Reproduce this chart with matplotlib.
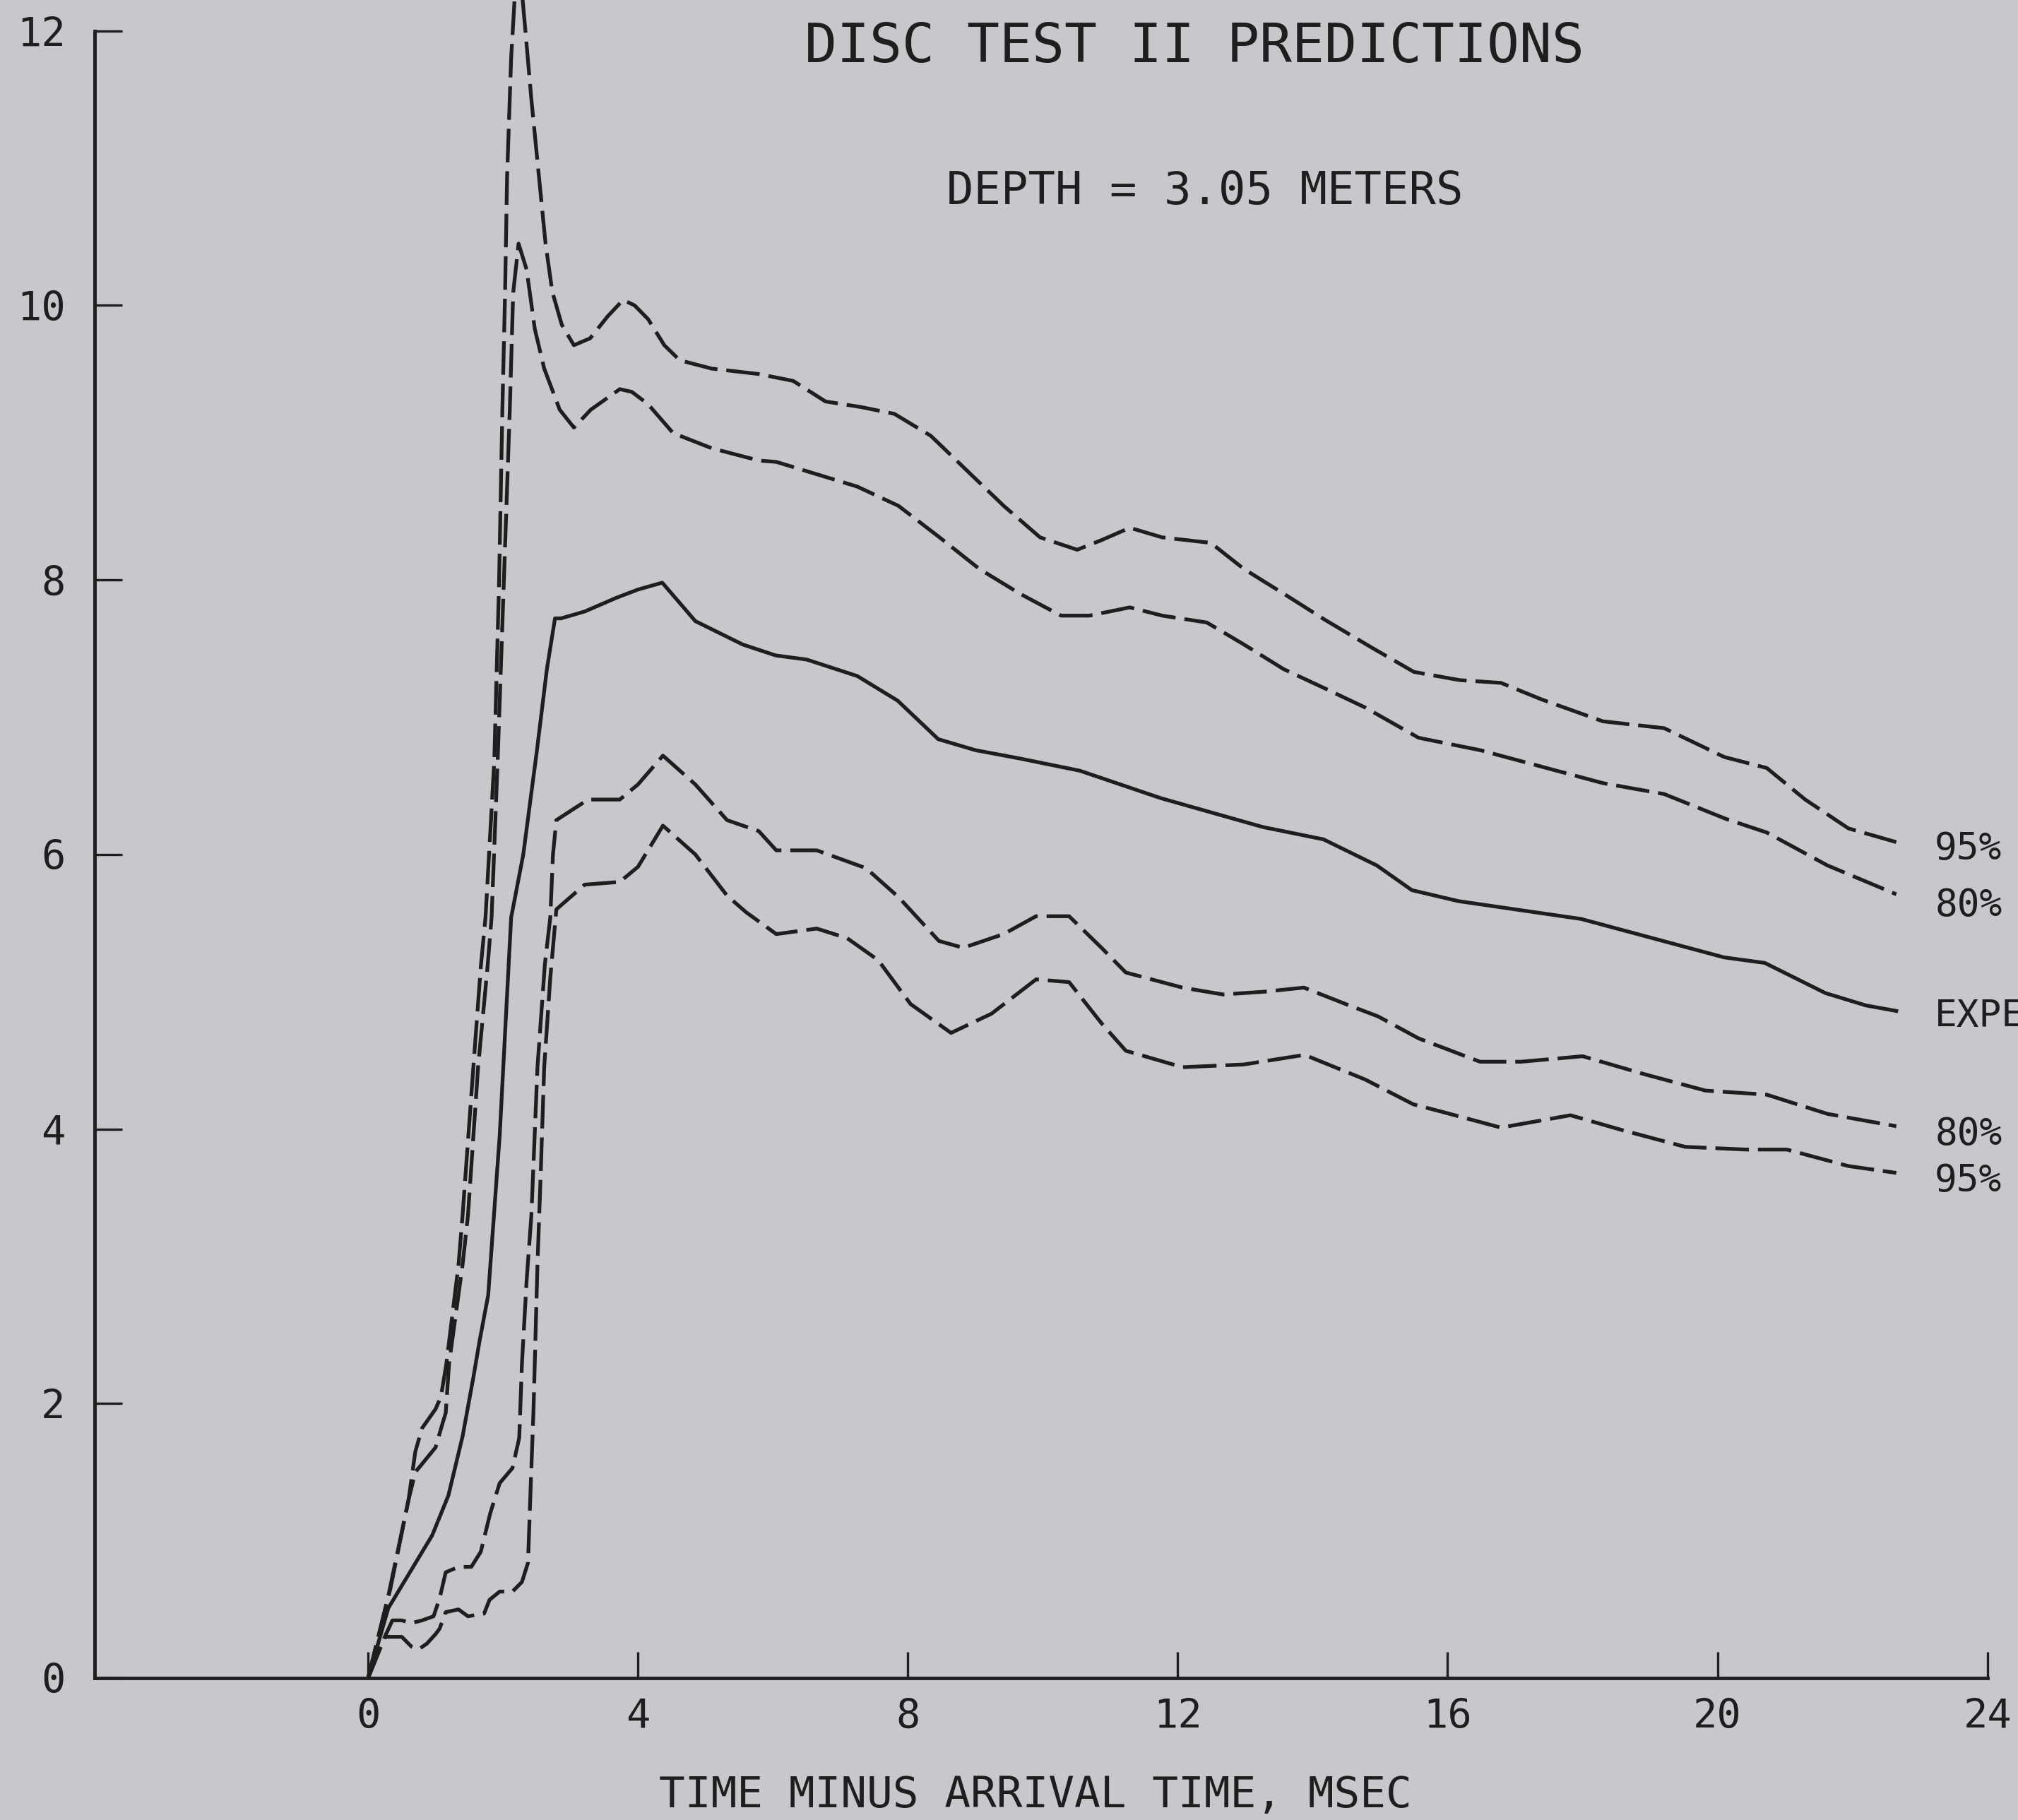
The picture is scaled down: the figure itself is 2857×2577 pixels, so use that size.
import matplotlib
matplotlib.use("Agg")
import matplotlib.pyplot as plt

# ---- data (time in msec, value) ----
expected_pts = [(0, 0), (0.3, 0.51), (0.95, 1.04), (1.19, 1.33), (1.40, 1.76), (1.56, 2.19),
                (1.65, 2.45), (1.78, 2.79), (1.95, 3.95), (2.12, 5.54), (2.3, 6.0), (2.5, 6.75),
                (2.65, 7.35), (2.77, 7.72), (2.86, 7.72), (3.21, 7.77), (3.68, 7.87), (4.0, 7.93),
                (4.36, 7.98), (4.85, 7.7), (5.55, 7.53), (6.04, 7.45), (6.5, 7.42), (7.25, 7.30),
                (7.85, 7.12), (8.45, 6.84), (9.0, 6.76), (9.65, 6.70), (10.55, 6.61), (11.75, 6.41),
                (13.26, 6.2), (14.16, 6.11), (14.95, 5.92), (15.47, 5.74), (16.16, 5.66), (17.0, 5.6),
                (17.98, 5.53), (19.19, 5.37), (20.1, 5.25), (20.7, 5.21), (21.6, 4.99), (22.2, 4.90),
                (22.65, 4.86)]

upper95_pts = [(0, 0), (0.33, 0.65), (0.6, 1.3), (0.7, 1.65), (0.8, 1.82), (1.0, 1.96), (1.08, 2.05),
               (1.16, 2.29), (1.34, 3.01), (1.40, 3.37), (1.56, 4.45), (1.67, 5.18), (1.74, 5.54),
               (1.87, 6.68), (1.94, 7.96), (1.99, 9.24), (2.03, 10.09), (2.06, 10.94), (2.12, 11.8),
               (2.17, 12.22), (2.24, 12.5), (2.33, 12.01), (2.42, 11.5), (2.52, 11.0), (2.63, 10.45),
               (2.73, 10.1), (2.87, 9.86), (3.05, 9.71), (3.29, 9.76), (3.55, 9.92), (3.78, 10.04),
               (3.95, 10.0), (4.15, 9.9), (4.39, 9.71), (4.62, 9.6), (5.09, 9.54), (5.79, 9.5),
               (6.3, 9.45), (6.78, 9.30), (7.3, 9.26), (7.8, 9.21), (8.34, 9.05), (8.89, 8.79),
               (9.42, 8.54), (9.96, 8.31), (10.51, 8.22), (10.87, 8.29), (11.29, 8.38), (11.77, 8.31),
               (12.49, 8.27), (12.98, 8.08), (13.57, 7.9), (14.18, 7.71), (14.9, 7.5), (15.5, 7.33),
               (16.18, 7.27), (16.79, 7.25), (17.39, 7.13), (18.3, 6.97), (19.21, 6.92), (20.1, 6.71),
               (20.73, 6.63), (21.3, 6.4), (21.94, 6.19), (22.65, 6.09)]

upper80_pts = [(0, 0), (0.3, 0.6), (0.6, 1.3), (0.7, 1.5), (1.0, 1.68), (1.1, 1.85), (1.15, 1.93),
               (1.2, 2.29), (1.40, 3.01), (1.48, 3.37), (1.63, 4.45), (1.77, 5.18), (1.83, 5.54),
               (1.92, 6.68), (2.01, 7.96), (2.10, 9.24), (2.15, 10.09), (2.23, 10.45), (2.35, 10.26),
               (2.47, 9.83), (2.61, 9.54), (2.84, 9.24), (3.05, 9.11), (3.3, 9.24), (3.73, 9.39),
               (3.91, 9.37), (4.15, 9.28), (4.52, 9.07), (5.09, 8.96), (5.79, 8.87), (6.05, 8.86),
               (6.65, 8.77), (7.25, 8.68), (7.86, 8.54), (8.47, 8.31), (9.06, 8.08), (9.66, 7.9),
               (10.27, 7.74), (10.69, 7.74), (11.29, 7.8), (11.77, 7.74), (12.43, 7.69), (12.98, 7.53),
               (13.57, 7.35), (14.18, 7.21), (14.78, 7.07), (15.57, 6.85), (16.48, 6.76), (17.39, 6.64),
               (18.3, 6.52), (19.21, 6.44), (20.12, 6.26), (20.73, 6.16), (21.63, 5.92), (22.65, 5.71)]

lower80_pts = [(0, 0), (0.2, 0.25), (0.36, 0.42), (0.5, 0.42), (0.64, 0.4), (0.8, 0.42), (0.97, 0.45),
               (1.06, 0.58), (1.15, 0.77), (1.34, 0.81), (1.53, 0.81), (1.67, 0.92), (1.81, 1.2),
               (1.95, 1.42), (2.14, 1.53), (2.24, 1.75), (2.28, 2.29), (2.35, 2.9), (2.42, 3.37),
               (2.51, 4.45), (2.62, 5.2), (2.70, 5.54), (2.74, 6.0), (2.79, 6.25), (3.26, 6.4),
               (3.73, 6.4), (4.0, 6.51), (4.37, 6.72), (4.85, 6.51), (5.32, 6.25), (5.79, 6.17),
               (6.05, 6.03), (6.65, 6.03), (7.38, 5.9), (7.86, 5.69), (8.46, 5.37), (8.82, 5.32),
               (9.42, 5.42), (9.9, 5.55), (10.39, 5.55), (10.87, 5.32), (11.23, 5.14), (12.07, 5.03),
               (12.67, 4.98), (13.28, 5.0), (13.87, 5.03), (14.49, 4.91), (14.97, 4.82), (15.57, 4.66),
               (16.48, 4.49), (17.09, 4.49), (18.0, 4.53), (18.91, 4.4), (19.82, 4.28), (20.73, 4.25),
               (21.63, 4.11), (22.65, 4.02)]

lower95_pts = [(0, 0), (0.25, 0.3), (0.5, 0.30), (0.64, 0.23), (0.75, 0.21), (0.87, 0.25), (1.0, 0.32),
               (1.06, 0.36), (1.15, 0.48), (1.34, 0.5), (1.48, 0.45), (1.6, 0.46), (1.72, 0.47),
               (1.8, 0.57), (1.95, 0.63), (2.14, 0.63), (2.28, 0.70), (2.37, 0.84), (2.41, 1.4),
               (2.45, 1.93), (2.51, 3.01), (2.56, 3.7), (2.61, 4.45), (2.7, 5.1), (2.79, 5.6),
               (3.21, 5.78), (3.73, 5.8), (4.0, 5.91), (4.37, 6.21), (4.85, 6.0), (5.32, 5.7),
               (5.6, 5.58), (6.05, 5.42), (6.65, 5.46), (7.1, 5.39), (7.56, 5.23), (8.04, 4.91),
               (8.64, 4.7), (9.24, 4.84), (9.9, 5.09), (10.39, 5.07), (10.87, 4.77), (11.23, 4.57),
               (12.07, 4.45), (12.98, 4.47), (13.88, 4.54), (14.78, 4.36), (15.49, 4.18), (15.88, 4.13),
               (16.79, 4.01), (17.82, 4.1), (18.6, 3.99), (19.52, 3.87), (20.43, 3.85), (21.03, 3.85),
               (21.94, 3.73), (22.65, 3.68)]

end_labels = ["95%", "80%", "EXPECTED", "80%", "95%"]
end_label_y = [6.04, 5.63, 4.82, 3.96, 3.62]

x_ticks = [0, 4, 8, 12, 16, 20, 24]
y_ticks = [0, 2, 4, 6, 8, 10, 12]

title = "DISC TEST II PREDICTIONS"
subtitle = "DEPTH = 3.05 METERS"
xlabel = "TIME MINUS ARRIVAL TIME, MSEC"

# ---- style ----
BG = "#c7c8cc"
INK = "#1e1e1e"
FONT = "DejaVu Sans Mono"


def xy(pts):
    return [p[0] for p in pts], [p[1] for p in pts]


fig = plt.figure(figsize=(28.57, 25.77), dpi=100)
fig.patch.set_facecolor(BG)
ax = fig.add_axes([0.047, 0.078, 0.9385, 0.922])
ax.set_facecolor(BG)
ax.set_xlim(-4.05, 24.02)
ax.set_ylim(0, 12.225)

for s in ["top", "right"]:
    ax.spines[s].set_visible(False)
for s in ["left", "bottom"]:
    ax.spines[s].set_linewidth(3.5)
    ax.spines[s].set_color(INK)
ax.spines["left"].set_bounds(0, 12)
ax.spines["bottom"].set_bounds(-4.05, 24)

ax.set_xticks(x_ticks)
ax.set_yticks(y_ticks)
ax.set_xticklabels([str(v) for v in x_ticks], fontsize=41, family=FONT, color=INK)
ax.set_yticklabels([str(v) for v in y_ticks], fontsize=41, family=FONT, color=INK)
ax.tick_params(axis="x", direction="in", length=27, width=2.4, color=INK, pad=20)
ax.tick_params(axis="y", direction="in", length=28, width=2.4, color=INK, pad=30)

dash = (0, (9, 2.4))
ax.plot(*xy(expected_pts), color=INK, lw=3.8, solid_joinstyle="round")
for pts in (upper95_pts, upper80_pts, lower80_pts, lower95_pts):
    ax.plot(*xy(pts), color=INK, lw=3.8, linestyle=dash)

for lab, yv in zip(end_labels, end_label_y):
    ax.text(23.22, yv, lab, ha="left", va="center", fontsize=38, family=FONT,
            color=INK, clip_on=False)

fig.text(0.592, 0.974, title, ha="center", va="center", fontsize=55, family=FONT, color=INK)
fig.text(0.597, 0.895, subtitle, ha="center", va="center", fontsize=46, family=FONT, color=INK)
fig.text(0.513, 0.0134, xlabel, ha="center", va="center", fontsize=44, family=FONT, color=INK)

fig.savefig("out.png", dpi=100, facecolor=BG)
